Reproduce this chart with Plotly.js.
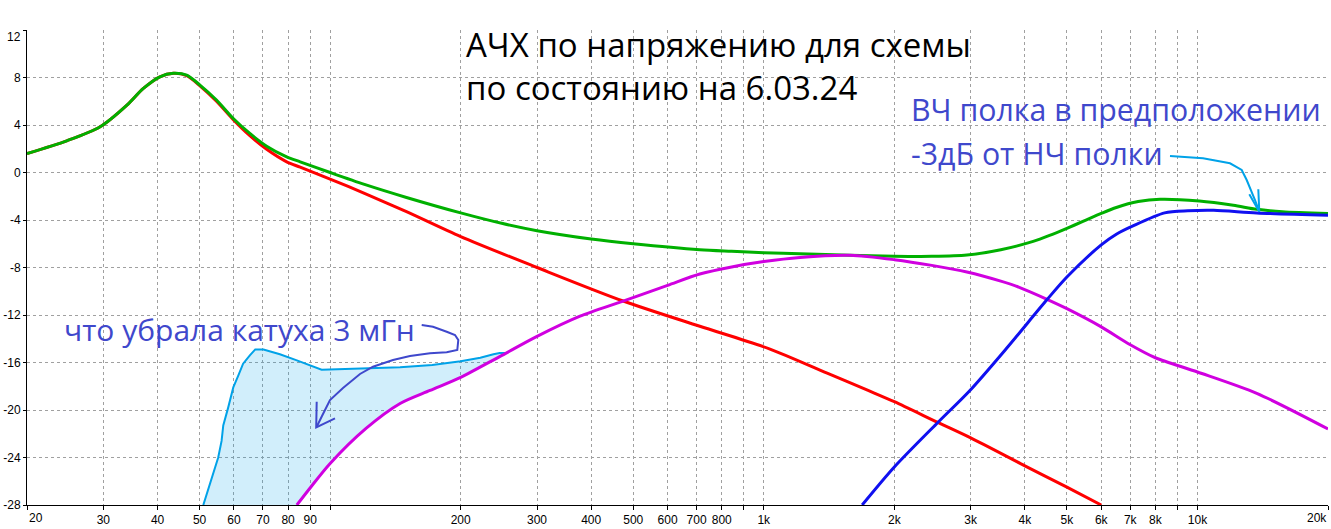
<!DOCTYPE html>
<html><head><meta charset="utf-8">
<script src="https://cdn.plot.ly/plotly-3.0.1.min.js"></script>
<style>html,body{margin:0;padding:0;background:#fff}#chart{width:1331px;height:529px}</style>
</head><body><div id="chart"></div>
<script>
// ---- data (frequency in Hz, level in dB) ----
const sumF  = [20,24.7,29.5,34,37.1,40.5,43.5,46.7,50.1,54.7,59.8,65.3,71.4,79.4,85.3,100,120,150,200,250,300,400,500,712,843,1000,1212,1580,2000,2440,2940,3520,4180,4560,5000,5460,6000,6500,7300,8200,10100,12100,13700,15700,20000];
const sumDb = [1.6,2.67,3.85,5.67,7.08,8.06,8.35,8.2,7.36,6.1,4.55,3.29,2.22,1.32,0.9,0.0,-1.0,-2.1,-3.4,-4.3,-4.9,-5.6,-6.0,-6.5,-6.63,-6.75,-6.85,-6.97,-7.05,-7.06,-6.95,-6.5,-5.8,-5.3,-4.7,-4.1,-3.45,-2.95,-2.45,-2.25,-2.4,-2.76,-3.1,-3.3,-3.46];

const lowF  = [20,24.7,29.5,34,37.1,40.5,43.5,46.7,50.1,54.7,59.8,65.3,71.4,79.4,85.3,100,120,150,200,300,472,712,1030,1400,1740,2000,2520,3000,4000,5000,6000];
const lowDb = [1.6,2.67,3.85,5.67,7.08,8.06,8.35,8.15,7.3,6.0,4.45,3.1,1.95,0.9,0.45,-0.55,-1.75,-3.3,-5.4,-8.0,-10.8,-12.95,-14.85,-16.9,-18.35,-19.3,-21.05,-22.35,-24.7,-26.5,-28];

const midF  = [83.8,90.2,100,121,145,170,200,246,300,377,472,600,712,843,1000,1212,1580,2000,2440,2940,3520,3870,4500,5000,6000,7000,8000,10000,13700,20000];
const midDb = [-28,-26.5,-24.5,-21.55,-19.45,-18.35,-17.25,-15.5,-13.8,-12.1,-10.85,-9.5,-8.55,-7.95,-7.5,-7.15,-6.97,-7.34,-7.82,-8.38,-9.15,-9.65,-10.68,-11.47,-13.0,-14.5,-15.6,-16.8,-18.6,-21.6];

const highF  = [1686,2000,2520,2980,3630,4500,5000,6000,6500,7100,8400,9500,10900,13700,20000];
const highDb = [-28,-24.8,-21.05,-18.4,-14.8,-10.7,-8.8,-6.1,-5.2,-4.5,-3.4,-3.22,-3.18,-3.4,-3.6];

const coilF  = [51,52.9,55.2,56.2,56.7,58.2,59.8,61.4,63.0,65.3,67.2,70.2,76.6,83.5,90.2,95.6,145,172,200,222,238,246,255];
const coilDb = [-28,-26.1,-24.0,-22.6,-21.3,-19.8,-18.1,-17.1,-16.1,-15.4,-14.9,-14.9,-15.3,-15.8,-16.25,-16.6,-16.4,-16.2,-15.9,-15.6,-15.3,-15.2,-15.2];

const xTickVals = [20,30,40,50,60,70,80,90,100,200,300,400,500,600,700,800,900,1000,2000,3000,4000,5000,6000,7000,8000,9000,10000,20000];
const xTickText = ['','30','40','50','60','70','80','90','','200','300','400','500','600','700','800','','1k','2k','3k','4k','5k','6k','7k','8k','','10k',''];
const xEdgeLabels = ['20','20k'];
const yTickVals = [12,8,4,0,-4,-8,-12,-16,-20,-24,-28];
const yTickText = ['','8','4','0','-4','-8','-12','-16','-20','-24','-28'];
const yTopLabel = '12';

// ---- geometry helpers (plot area in pixels) ----
const L = 27, R = 3, T = 30, B = 24, W = 1331, H = 529;
const PW = W - L - R, PH = H - T - B;
const px = x => (x - L) / PW;
const py = y => (H - B - y) / PH;
function path(pts){ return pts.map((p,i)=>(i?'L':'M')+px(p[0]).toFixed(5)+','+py(p[1]).toFixed(5)).join(' '); }

// fill polygon between coil curve and mid curve
const fillF = coilF.slice(), fillDb = coilDb.slice();
for (let i = midF.length - 1; i >= 0; i--) {
  if (midF[i] <= coilF[coilF.length-1]) { fillF.push(midF[i]); fillDb.push(midDb[i]); }
}

const sp = {shape:'spline', smoothing:0.8};
const traces = [
  {x: fillF, y: fillDb, mode:'lines', fill:'toself', fillcolor:'rgba(0,162,232,0.18)', line:{width:0, color:'rgba(0,0,0,0)'}, hoverinfo:'skip'},
  {x: coilF, y: coilDb, mode:'lines', line:{color:'#00a2e8', width:2}},
  {x: lowF, y: lowDb, mode:'lines', line:Object.assign({color:'#ff0000', width:3}, sp)},
  {x: sumF, y: sumDb, mode:'lines', line:Object.assign({color:'#00b000', width:3}, sp)},
  {x: midF, y: midDb, mode:'lines', line:Object.assign({color:'#d000e0', width:3}, sp)},
  {x: highF, y: highDb, mode:'lines', line:Object.assign({color:'#1010f0', width:3}, sp)}
];

const blue = 'rgb(63,72,204)';
const txtFont = 'Open Sans, Noto Sans, sans-serif';
const layout = {
  width: W, height: H, margin:{l:L, r:R, t:T, b:B, pad:0},
  paper_bgcolor:'#fff', plot_bgcolor:'#fff', showlegend:false,
  font:{family:'Liberation Sans, Arial, sans-serif', size:12, color:'#000'},
  xaxis:{type:'log', range:[Math.log10(20), Math.log10(20000)], tickvals:xTickVals, ticktext:xTickText,
    showgrid:true, gridcolor:'#a0a0a0', griddash:'3px,3px', gridwidth:1, zeroline:false,
    showline:true, linecolor:'#000', linewidth:1, ticks:'outside', ticklen:4, tickcolor:'#000',
    tickfont:{size:12, color:'#000'}, fixedrange:true},
  yaxis:{range:[-28,12], tickvals:yTickVals, ticktext:yTickText,
    showgrid:true, gridcolor:'#a0a0a0', griddash:'3px,3px', gridwidth:1, zeroline:false,
    showline:true, linecolor:'#000', linewidth:1, ticks:'outside', ticklen:3, tickcolor:'#000',
    tickfont:{size:12, color:'#000'}, fixedrange:true},
  shapes:[
    {type:'rect', xref:'paper', yref:'paper', x0:px(290), x1:px(780), y0:py(123), y1:py(0), fillcolor:'#fff', line:{width:0}, layer:'between'},
    {type:'rect', xref:'paper', yref:'paper', x0:px(780), x1:px(1331), y0:py(171), y1:py(0), fillcolor:'#fff', line:{width:0}, layer:'between'},
    {type:'rect', xref:'paper', yref:'paper', x0:px(63), x1:px(418), y0:py(343), y1:py(318), fillcolor:'#fff', line:{width:0}, layer:'between'},
    {type:'path', xref:'paper', yref:'paper', layer:'above', line:{color:blue, width:2},
      path: path([[421.7,325],[433,326.7],[446.7,331.7],[455,335],[458.3,340],[457.3,350],[446.7,352.3],[430,353.3],[410,356],[393,360],[373,366.7],[360,374],[343,388],[330,400],[322,416],[316.7,426.7]])},
    {type:'path', xref:'paper', yref:'paper', layer:'above', line:{color:blue, width:2},
      path: path([[316.7,401.7],[316.2,427.5],[335,418.3]])},
    {type:'path', xref:'paper', yref:'paper', layer:'above', line:{color:'#00a2e8', width:2},
      path: path([[1170,156],[1203,158.3],[1230,163.3],[1241.7,170],[1246.7,180],[1255,200],[1259.3,211.7]])},
    {type:'path', xref:'paper', yref:'paper', layer:'above', line:{color:'#00a2e8', width:2},
      path: path([[1258.3,189.3],[1259.3,211.7],[1249.3,194.3]])}
  ],
  annotations:[
    {xref:'paper', yref:'paper', x:px(27), y:py(518), xanchor:'left', yanchor:'middle', showarrow:false,
      text:xEdgeLabels[0], font:{size:12, color:'#000'}},
    {xref:'paper', yref:'paper', x:px(1329), y:py(518), xanchor:'right', yanchor:'middle', showarrow:false,
      text:xEdgeLabels[1], font:{size:12, color:'#000'}},
    {xref:'paper', yref:'paper', x:px(23), y:py(37), xanchor:'right', yanchor:'middle', showarrow:false,
      text:yTopLabel, font:{size:12, color:'#000'}},
    {xref:'paper', yref:'paper', x:px(464), y:py(44), xanchor:'left', yanchor:'middle', showarrow:false,
      text:'АЧХ по напряжению для схемы', font:{family:txtFont, size:33, color:'#000'}},
    {xref:'paper', yref:'paper', x:px(464), y:py(87), xanchor:'left', yanchor:'middle', showarrow:false,
      text:'по состоянию на 6.03.24', font:{family:txtFont, size:33, color:'#000'}},
    {xref:'paper', yref:'paper', x:px(909), y:py(110), xanchor:'left', yanchor:'middle', showarrow:false,
      text:'ВЧ полка в предположении', font:{family:txtFont, size:30.3, color:blue}},
    {xref:'paper', yref:'paper', x:px(909), y:py(153), xanchor:'left', yanchor:'middle', showarrow:false,
      text:'-3дБ от НЧ полки', font:{family:txtFont, size:30.3, color:blue}},
    {xref:'paper', yref:'paper', x:px(62), y:py(329), xanchor:'left', yanchor:'middle', showarrow:false,
      text:'что убрала катуха 3 мГн', font:{family:txtFont, size:30, color:blue}}
  ]
};

Plotly.newPlot('chart', traces, layout, {displayModeBar:false, staticPlot:true});
</script></body></html>
